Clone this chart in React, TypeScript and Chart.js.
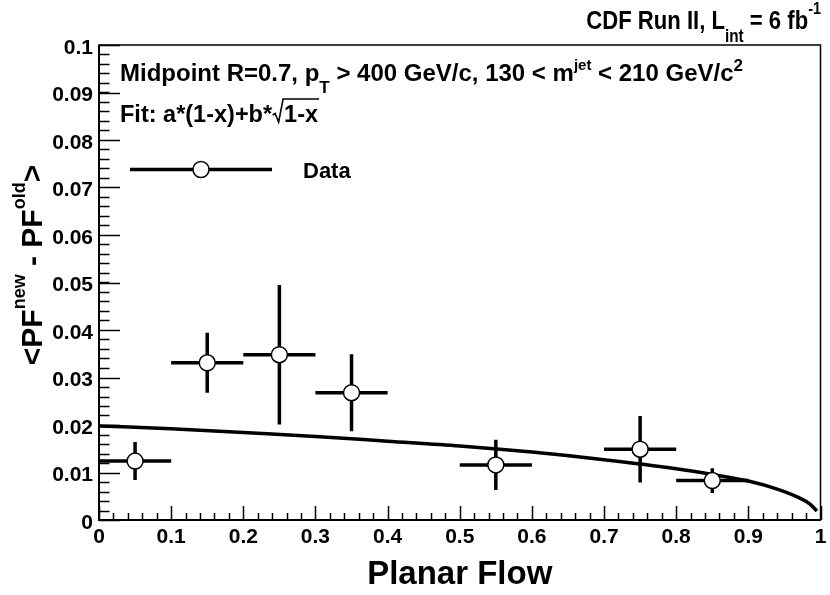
import { useEffect, useRef } from "react";
import { Chart, registerables } from "chart.js";

Chart.register(...registerables);

// ---- data ----
const binCenters = [0.05, 0.15, 0.25, 0.35, 0.55, 0.75, 0.85];
const binHalfWidths = [0.05, 0.05, 0.05, 0.05, 0.05, 0.05, 0.05];
const meanDiff = [0.0124, 0.0331, 0.0348, 0.0268, 0.0116, 0.0149, 0.0083];
const meanDiffErr = [0.004, 0.0063, 0.0147, 0.0081, 0.0053, 0.007, 0.0026];

const fitX = [0, 0.1, 0.2, 0.3, 0.4, 0.5, 0.6, 0.7, 0.8, 0.85, 0.9, 0.94, 0.97, 0.985, 0.995];
const fitY = [0.0198, 0.0192, 0.0184, 0.0176, 0.0166, 0.0156, 0.0143, 0.0127, 0.0108, 0.0096, 0.0082, 0.0065, 0.0047, 0.0034, 0.0019];

const xTickValues = [0, 0.1, 0.2, 0.3, 0.4, 0.5, 0.6, 0.7, 0.8, 0.9, 1];
const xTickLabels = ["0", "0.1", "0.2", "0.3", "0.4", "0.5", "0.6", "0.7", "0.8", "0.9", "1"];
const yTickValues = [0, 0.01, 0.02, 0.03, 0.04, 0.05, 0.06, 0.07, 0.08, 0.09, 0.1];
const yTickLabels = ["0", "0.01", "0.02", "0.03", "0.04", "0.05", "0.06", "0.07", "0.08", "0.09", "0.1"];
const xMinorStep = 0.02;
const yMinorStep = 0.002;

const FONT = '"Liberation Sans", Arial, Helvetica, sans-serif';

type Seg = { t: string; s: number; dy?: number };

function setFont(ctx: CanvasRenderingContext2D, s: number) {
  ctx.font = `bold ${s}px ${FONT}`;
}

function segsWidth(ctx: CanvasRenderingContext2D, segs: Seg[]) {
  let w = 0;
  for (const g of segs) {
    setFont(ctx, g.s);
    w += ctx.measureText(g.t).width;
  }
  return w;
}

function drawSegs(ctx: CanvasRenderingContext2D, segs: Seg[], x: number, y: number, sx = 1) {
  ctx.save();
  ctx.translate(x, y);
  ctx.scale(sx, 1);
  let cx = 0;
  ctx.textAlign = "left";
  ctx.textBaseline = "alphabetic";
  for (const g of segs) {
    setFont(ctx, g.s);
    ctx.fillText(g.t, cx, g.dy || 0);
    cx += ctx.measureText(g.t).width;
  }
  ctx.restore();
  return x + cx * sx;
}

const rootPlugin = {
  id: "rootStyle",
  beforeDraw(chart: any) {
    const ctx = chart.ctx as CanvasRenderingContext2D;
    ctx.save();
    ctx.fillStyle = "#ffffff";
    ctx.fillRect(0, 0, chart.width, chart.height);
    ctx.restore();
  },
  beforeDatasetsDraw(chart: any) {
    const ctx = chart.ctx as CanvasRenderingContext2D;
    const xs = chart.scales.x;
    const ys = chart.scales.y;
    ctx.save();
    ctx.strokeStyle = "#000";
    ctx.lineWidth = 3.5;
    ctx.lineCap = "butt";
    for (let i = 0; i < binCenters.length; i++) {
      const px = xs.getPixelForValue(binCenters[i]);
      const py = ys.getPixelForValue(meanDiff[i]);
      ctx.beginPath();
      ctx.moveTo(xs.getPixelForValue(binCenters[i] - binHalfWidths[i]), py);
      ctx.lineTo(xs.getPixelForValue(binCenters[i] + binHalfWidths[i]), py);
      ctx.moveTo(px, ys.getPixelForValue(meanDiff[i] - meanDiffErr[i]));
      ctx.lineTo(px, ys.getPixelForValue(meanDiff[i] + meanDiffErr[i]));
      ctx.stroke();
    }
    ctx.restore();
  },
  afterDatasetsDraw(chart: any) {
    const ctx = chart.ctx as CanvasRenderingContext2D;
    const xs = chart.scales.x;
    const ys = chart.scales.y;
    const a = chart.chartArea;
    ctx.save();
    ctx.strokeStyle = "#000";
    ctx.fillStyle = "#000";

    // frame
    ctx.lineWidth = 1.5;
    ctx.strokeRect(a.left, a.top, a.right - a.left, a.bottom - a.top);
    ctx.lineWidth = 2;
    ctx.beginPath();
    ctx.moveTo(a.left, a.top);
    ctx.lineTo(a.left, a.bottom);
    ctx.lineTo(a.right, a.bottom);
    ctx.stroke();

    // x ticks
    ctx.lineWidth = 1.5;
    ctx.beginPath();
    for (let v = 0; v <= 1.0001; v += xMinorStep) {
      const px = Math.round(xs.getPixelForValue(v)) + 0.5;
      ctx.moveTo(px, a.bottom);
      ctx.lineTo(px, a.bottom - 7);
    }
    for (const v of xTickValues) {
      const px = Math.round(xs.getPixelForValue(v)) + 0.5;
      ctx.moveTo(px, a.bottom);
      ctx.lineTo(px, a.bottom - 14);
    }
    // y ticks
    for (let v = 0; v <= 0.10001; v += yMinorStep) {
      const py = Math.round(ys.getPixelForValue(v)) + 0.5;
      ctx.moveTo(a.left, py);
      ctx.lineTo(a.left + 10.5, py);
    }
    for (const v of yTickValues) {
      const py = Math.round(ys.getPixelForValue(v)) + 0.5;
      ctx.moveTo(a.left, py);
      ctx.lineTo(a.left + 21, py);
    }
    ctx.stroke();

    // tick labels
    setFont(ctx, 21);
    ctx.textAlign = "center";
    ctx.textBaseline = "alphabetic";
    xTickValues.forEach((v, i) => {
      ctx.fillText(xTickLabels[i], xs.getPixelForValue(v), a.bottom + 23);
    });
    ctx.textAlign = "right";
    ctx.textBaseline = "middle";
    yTickValues.forEach((v, i) => {
      ctx.fillText(yTickLabels[i], a.left - 6, ys.getPixelForValue(v) + 3);
    });

    // x title
    setFont(ctx, 33);
    ctx.textAlign = "center";
    ctx.textBaseline = "alphabetic";
    ctx.fillText("Planar Flow", (a.left + a.right) / 2, 584);

    // y title (rotated)
    const ySegs: Seg[] = [
      { t: "<PF", s: 30 },
      { t: "new", s: 18, dy: -17 },
      { t: " - PF", s: 30 },
      { t: "old", s: 18, dy: -17 },
      { t: ">", s: 30 },
    ];
    ctx.save();
    ctx.translate(42, 265);
    ctx.rotate(-Math.PI / 2);
    const yw = segsWidth(ctx, ySegs);
    drawSegs(ctx, ySegs, -yw / 2, 0);
    ctx.restore();

    // top-right title (condensed look)
    const tSegs: Seg[] = [
      { t: "CDF Run II, L", s: 26 },
      { t: "int", s: 18, dy: 13 },
      { t: " = 6 fb", s: 26 },
      { t: "-1", s: 17, dy: -15 },
    ];
    const tsx = 0.85;
    const tw = segsWidth(ctx, tSegs) * tsx;
    drawSegs(ctx, tSegs, 821 - tw, 29, tsx);

    // annotation line 1
    const l1: Seg[] = [
      { t: "Midpoint R=0.7, p", s: 24 },
      { t: "T", s: 17, dy: 12 },
      { t: " > 400 GeV/c, 130 < m", s: 24 },
      { t: "jet", s: 15, dy: -11 },
      { t: " < 210 GeV/c", s: 24 },
      { t: "2", s: 17, dy: -10 },
    ];
    drawSegs(ctx, l1, 120, 81);

    // annotation line 2 with radical
    const by = 122;
    const cx = drawSegs(ctx, [{ t: "Fit: a*(1-x)+b*", s: 23.5 }], 120, by);
    setFont(ctx, 23.5);
    const rw = ctx.measureText("1-x").width;
    ctx.lineWidth = 1.6;
    ctx.beginPath();
    ctx.moveTo(cx + 0.5, by - 7);
    ctx.lineTo(cx + 3, by - 8.5);
    ctx.lineTo(cx + 6.5, by);
    ctx.lineTo(cx + 11, by - 23);
    ctx.lineTo(cx + 13 + rw, by - 23);
    ctx.stroke();
    drawSegs(ctx, [{ t: "1-x", s: 23.5 }], cx + 12, by);

    // legend
    ctx.lineWidth = 3.5;
    ctx.beginPath();
    ctx.moveTo(130, 169.5);
    ctx.lineTo(272, 169.5);
    ctx.stroke();
    ctx.beginPath();
    ctx.arc(201, 169.5, 8, 0, Math.PI * 2);
    ctx.fillStyle = "#fff";
    ctx.fill();
    ctx.lineWidth = 1.5;
    ctx.stroke();
    ctx.fillStyle = "#000";
    setFont(ctx, 22);
    ctx.textAlign = "left";
    ctx.textBaseline = "alphabetic";
    ctx.fillText("Data", 303, 178);

    ctx.restore();
  },
};

export default function App() {
  const ref = useRef<HTMLCanvasElement | null>(null);
  useEffect(() => {
    document.body.style.margin = "0";
    if (!ref.current) return;
    const chart = new Chart(ref.current, {
      type: "scatter",
      data: {
        datasets: [
          {
            type: "scatter",
            label: "Data",
            data: binCenters.map((x, i) => ({ x, y: meanDiff[i] })),
            pointStyle: "circle",
            pointRadius: 8,
            pointBackgroundColor: "#ffffff",
            pointBorderColor: "#000000",
            pointBorderWidth: 1.5,
          },
          {
            type: "line",
            label: "Fit",
            data: fitX.map((x, i) => ({ x, y: fitY[i] })),
            borderColor: "#000000",
            borderWidth: 3.5,
            pointRadius: 0,
            fill: false,
            cubicInterpolationMode: "monotone",
          } as any,
        ],
      },
      options: {
        animation: false,
        responsive: false,
        maintainAspectRatio: false,
        devicePixelRatio: 1,
        layout: { padding: { left: 99, top: 45, right: 6, bottom: 75 } },
        scales: {
          x: { type: "linear", min: 0, max: 1, display: false },
          y: { type: "linear", min: 0, max: 0.1, display: false },
        },
        plugins: { legend: { display: false }, tooltip: { enabled: false } },
        events: [],
      },
      plugins: [rootPlugin],
    });
    return () => chart.destroy();
  }, []);
  return (
    <div style={{ position: "fixed", left: 0, top: 0, width: 830, height: 595 }}>
      <canvas ref={ref} width={830} height={595} style={{ display: "block", width: 830, height: 595 }} />
    </div>
  );
}
